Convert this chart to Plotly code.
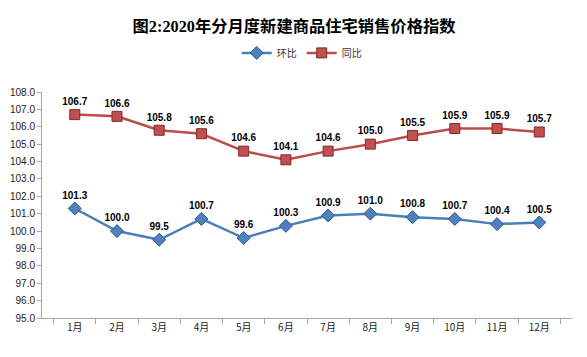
import plotly.graph_objects as go

months = ["1月", "2月", "3月", "4月", "5月", "6月", "7月", "8月", "9月", "10月", "11月", "12月"]
huanbi = [101.3, 100.0, 99.5, 100.7, 99.6, 100.3, 100.9, 101.0, 100.8, 100.7, 100.4, 100.5]
tongbi = [106.7, 106.6, 105.8, 105.6, 104.6, 104.1, 104.6, 105.0, 105.5, 105.9, 105.9, 105.7]
yticks = [95.0 + i for i in range(14)]

label_font = dict(family="Liberation Sans, Arial", size=10, color="#000000")

fig = go.Figure()
fig.add_trace(go.Scatter(
    x=months, y=huanbi, name="环比", mode="lines+markers+text",
    line=dict(color="#4A7EBB", width=2.5),
    marker=dict(symbol="diamond", size=10, color="#4F81BD", line=dict(color="#2C5A8C", width=1)),
    text=[f"<b>{v:.1f}</b>" for v in huanbi], textposition="top center",
    textfont=label_font,
))
fig.add_trace(go.Scatter(
    x=months, y=tongbi, name="同比", mode="lines+markers+text",
    line=dict(color="#BE4B48", width=2.5),
    marker=dict(symbol="square", size=10, color="#C0504D", line=dict(color="#7F2A28", width=1)),
    text=[f"<b>{v:.1f}</b>" for v in tongbi], textposition="top center",
    textfont=label_font,
))

fig.update_layout(
    width=579, height=349,
    margin=dict(l=34, r=15, t=84, b=39, autoexpand=False),
    paper_bgcolor="white", plot_bgcolor="white",
    title=dict(text="<b>图2:2020年分月度新建商品住宅销售价格指数</b>",
               x=0.494, xanchor="center", y=0.948, yanchor="middle",
               font=dict(family="Liberation Serif, Noto Sans CJK SC", size=16.3, color="#000000")),
    legend=dict(orientation="h", x=0.49, xanchor="center", y=1.173, yanchor="middle",
                font=dict(family="Noto Sans CJK SC", size=10, color="#333333"),
                itemwidth=30, bgcolor="rgba(0,0,0,0)"),
    showlegend=True,
    font=dict(family="Liberation Sans, Noto Sans CJK SC", size=10, color="#333333"),
)
fig.update_xaxes(
    type="category", showgrid=False, showline=True, linecolor="#A6A6A6", linewidth=1,
    ticks="outside", tickson="boundaries", ticklen=5, tickcolor="#A6A6A6",
    tickfont=dict(family="Noto Sans CJK SC", size=10, color="#222222"),
    mirror=False,
)
fig.update_yaxes(
    range=[95, 108], tickvals=yticks, ticktext=[f"{v:.1f}" for v in yticks],
    showgrid=False, showline=True, linecolor="#A6A6A6", linewidth=1,
    ticks="outside", ticklen=4, tickcolor="#A6A6A6", zeroline=False,
    tickfont=dict(family="Liberation Sans, Arial", size=10, color="#222222"),
)

fig.write_html("out.html")
